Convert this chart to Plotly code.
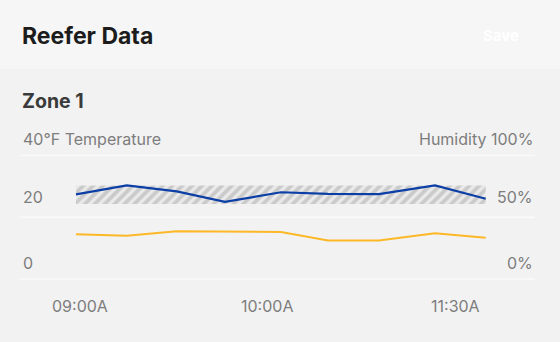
import plotly.graph_objects as go

# ---- data ----
x_pos = [0, 0.99, 1.965, 2.907, 4.0, 4.917, 5.91, 7.005, 7.994]
temperature_f = [27.4, 30.3, 28.4, 25.0, 28.1, 27.6, 27.5, 30.3, 26.0]
humidity_pct = [36.2, 35.1, 38.6, 38.3, 38.1, 31.2, 31.2, 37.0, 33.4]
band_low, band_high = 24.3, 30.3
x_tick_pos = [0.078, 3.727, 7.395]
x_tick_text = ["09:00A", "10:00A", "11:30A"]
temp_ticks = [0, 20, 40]
temp_tick_text = ["0", "20", "40°F Temperature"]
hum_tick_text = ["0%", "50%", "Humidity 100%"]
label_shift = [16, 20.5, 17]

W, H = 560, 342
ML, MR, MT, MB = 20, 25, 150, 52
x_range = [-1.0927, 8.956]
y_range = [-3.563, 41.781]
y2_range = [y_range[0] * 2.5, y_range[1] * 2.5]

FONT = "Inter, Roboto, sans-serif"
GRAY = "#7d7d7d"

fig = go.Figure()

# hatched band
fig.add_trace(go.Scatter(
    x=[x_pos[0], x_pos[-1], x_pos[-1], x_pos[0], x_pos[0]],
    y=[band_low, band_low, band_high, band_high, band_low],
    fill="toself", mode="none",
    fillcolor="#ebebeb",
    fillpattern=dict(shape="/", fgcolor="#a9a9a9", bgcolor="#ebebeb", size=7, solidity=0.55),
    hoverinfo="skip", showlegend=False,
))

fig.add_trace(go.Scatter(
    x=x_pos, y=humidity_pct, yaxis="y2", mode="lines",
    line=dict(color="#FDB827", width=2), showlegend=False,
))
fig.add_trace(go.Scatter(
    x=x_pos, y=temperature_f, mode="lines",
    line=dict(color="#0B3FA6", width=2.2), showlegend=False,
))

shapes = [
    dict(type="rect", xref="paper", yref="paper", x0=-1, x1=2, y0=(H - 69 - MB) / (H - MT - MB), y1=5,
         fillcolor="#f6f6f6", line=dict(width=0), layer="below"),
]
for t in temp_ticks:
    shapes.append(dict(type="line", xref="paper", yref="y", x0=0, x1=1, y0=t, y1=t,
                       line=dict(color="#fafafa", width=1.5), layer="below"))

annotations = []
for t, txt, s in zip(temp_ticks, temp_tick_text, label_shift):
    annotations.append(dict(xref="paper", yref="y", x=0, y=t, yshift=s, text=txt,
                            showarrow=False, xanchor="left", yanchor="middle", xshift=1,
                            font=dict(family=FONT, size=16, color=GRAY)))
for t, txt, s in zip(temp_ticks, hum_tick_text, label_shift):
    annotations.append(dict(xref="paper", yref="y", x=1, y=t, yshift=s, text=txt,
                            showarrow=False, xanchor="right", yanchor="middle",
                            font=dict(family=FONT, size=16, color=GRAY)))
for xv, txt in zip(x_tick_pos, x_tick_text):
    annotations.append(dict(xref="x", yref="y", x=xv, y=0, yshift=-27, text=txt,
                            showarrow=False, xanchor="center", yanchor="middle",
                            font=dict(family=FONT, size=16, color=GRAY)))

def py(px):
    return (H - px - MB) / (H - MT - MB)

def pxx(px):
    return (px - ML) / (W - ML - MR)

annotations += [
    dict(xref="paper", yref="paper", x=pxx(20), y=py(36), text="<b>Reefer Data</b>", showarrow=False,
         xanchor="left", yanchor="middle", font=dict(family=FONT, size=23, color="#1c1c1c")),
    dict(xref="paper", yref="paper", x=pxx(501), y=py(35), text="<b>Save</b>", showarrow=False,
         xanchor="center", yanchor="middle", font=dict(family=FONT, size=15, color="#ffffff")),
    dict(xref="paper", yref="paper", x=pxx(20), y=py(101), text="<b>Zone 1</b>", showarrow=False,
         xanchor="left", yanchor="middle", font=dict(family=FONT, size=19.5, color="#3a3a3a")),
]

fig.update_layout(
    width=W, height=H,
    margin=dict(l=ML, r=MR, t=MT, b=MB),
    paper_bgcolor="#f2f2f2", plot_bgcolor="rgba(0,0,0,0)",
    xaxis=dict(range=x_range, visible=False, fixedrange=True),
    yaxis=dict(range=y_range, visible=False, fixedrange=True),
    yaxis2=dict(range=y2_range, visible=False, overlaying="y", side="right", fixedrange=True),
    shapes=shapes, annotations=annotations,
    showlegend=False,
)

fig.write_html("out.html", config={"displayModeBar": False})
